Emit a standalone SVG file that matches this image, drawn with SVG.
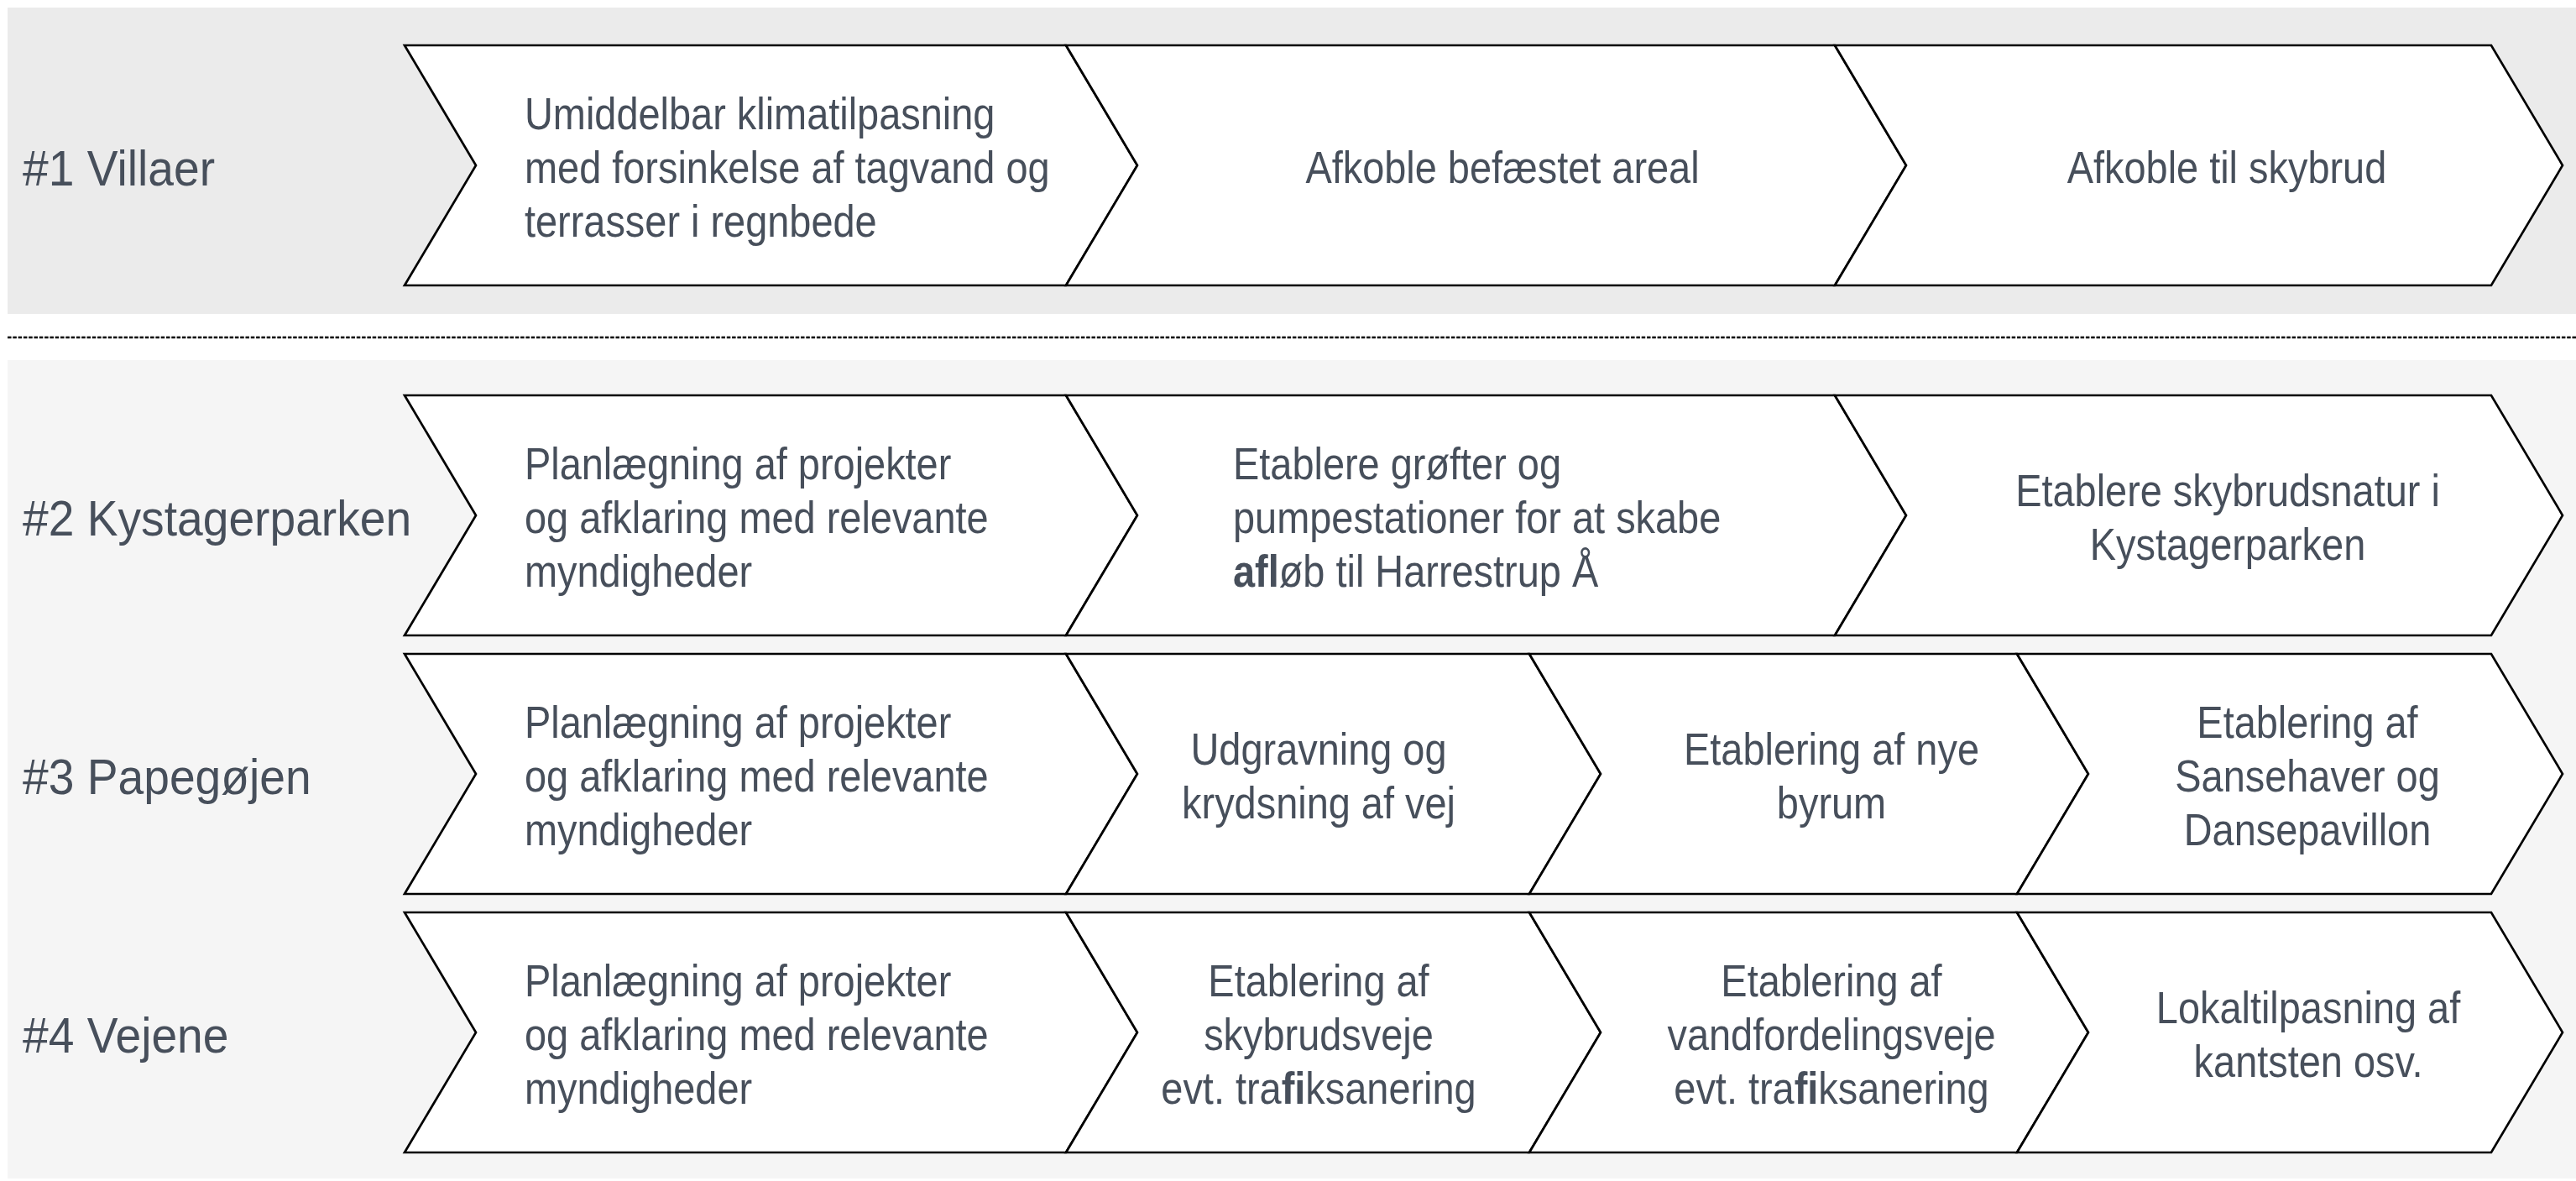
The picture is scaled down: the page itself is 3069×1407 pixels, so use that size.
<svg xmlns="http://www.w3.org/2000/svg" width="3069" height="1407" viewBox="0 0 3069 1407">
<style>
.chev{fill:#ffffff;stroke:#000000;stroke-width:2.7;stroke-linejoin:miter}
.t{font-family:"Liberation Sans",Arial,sans-serif;font-size:53px;fill:#474f5b}
.lbl{font-family:"Liberation Sans",Arial,sans-serif;font-size:60px;fill:#474f5b}
.c{text-anchor:middle}
.b{font-weight:bold}
</style>
<rect x="0" y="0" width="3069" height="1407" fill="#ffffff"/>
<g id="backgrounds">
<rect x="9" y="9" width="3060" height="365" fill="#ebebeb"/>
<rect x="9" y="429" width="3060" height="975" fill="#f5f5f5"/>
<line x1="9" y1="402" x2="3069" y2="402" stroke="#000" stroke-width="2.7" stroke-dasharray="4.5 1.8"/>
</g>

<g id="label-1"><g transform="translate(27 0) scale(0.92 1)"><text class="lbl" x="0" y="221">#1 Villaer</text></g></g>
<g id="label-2"><g transform="translate(27 0) scale(0.92 1)"><text class="lbl" x="0" y="638">#2 Kystagerparken</text></g></g>
<g id="label-3"><g transform="translate(27 0) scale(0.92 1)"><text class="lbl" x="0" y="946">#3 Papegøjen</text></g></g>
<g id="label-4"><g transform="translate(27 0) scale(0.92 1)"><text class="lbl" x="0" y="1254">#4 Vejene</text></g></g>

<!-- Row 1 -->
<g id="r1c1">
<polygon class="chev" points="482,54 1270,54 1355,197 1270,340 482,340 567,197"/>
<g transform="translate(625 0) scale(0.885 1)"><text class="t" x="0"><tspan x="0" y="154">Umiddelbar klimatilpasning</tspan><tspan x="0" y="218">med forsinkelse af tagvand og</tspan><tspan x="0" y="282">terrasser i regnbede</tspan></text></g>
</g>
<g id="r1c2">
<polygon class="chev" points="1270,54 2186,54 2271,197 2186,340 1270,340 1355,197"/>
<g transform="translate(1790 0) scale(0.885 1)"><text class="t c" x="0" y="218">Afkoble befæstet areal</text></g>
</g>
<g id="r1c3">
<polygon class="chev" points="2186,54 2968,54 3053,197 2968,340 2186,340 2271,197"/>
<g transform="translate(2653 0) scale(0.885 1)"><text class="t c" x="0" y="218">Afkoble til skybrud</text></g>
</g>

<!-- Row 2 -->
<g id="r2c1">
<polygon class="chev" points="482,471 1270,471 1355,614 1270,757 482,757 567,614"/>
<g transform="translate(625 0) scale(0.885 1)"><text class="t" x="0"><tspan x="0" y="571">Planlægning af projekter</tspan><tspan x="0" y="635">og afklaring med relevante</tspan><tspan x="0" y="699">myndigheder</tspan></text></g>
</g>
<g id="r2c2">
<polygon class="chev" points="1270,471 2186,471 2271,614 2186,757 1270,757 1355,614"/>
<g transform="translate(1469 0) scale(0.885 1)"><text class="t" x="0"><tspan x="0" y="571">Etablere grøfter og</tspan><tspan x="0" y="635">pumpestationer for at skabe</tspan><tspan x="0" y="699"><tspan class="b">afl</tspan>øb til Harrestrup Å</tspan></text></g>
</g>
<g id="r2c3">
<polygon class="chev" points="2186,471 2968,471 3053,614 2968,757 2186,757 2271,614"/>
<g transform="translate(2654 0) scale(0.885 1)"><text class="t c" x="0"><tspan x="0" y="603">Etablere skybrudsnatur i</tspan><tspan x="0" y="667">Kystagerparken</tspan></text></g>
</g>

<!-- Row 3 -->
<g id="r3c1">
<polygon class="chev" points="482,779 1270,779 1355,922 1270,1065 482,1065 567,922"/>
<g transform="translate(625 0) scale(0.885 1)"><text class="t" x="0"><tspan x="0" y="879">Planlægning af projekter</tspan><tspan x="0" y="943">og afklaring med relevante</tspan><tspan x="0" y="1007">myndigheder</tspan></text></g>
</g>
<g id="r3c2">
<polygon class="chev" points="1270,779 1822,779 1907,922 1822,1065 1270,1065 1355,922"/>
<g transform="translate(1571 0) scale(0.885 1)"><text class="t c" x="0"><tspan x="0" y="911">Udgravning og</tspan><tspan x="0" y="975">krydsning af vej</tspan></text></g>
</g>
<g id="r3c3">
<polygon class="chev" points="1822,779 2403,779 2488,922 2403,1065 1822,1065 1907,922"/>
<g transform="translate(2182 0) scale(0.885 1)"><text class="t c" x="0"><tspan x="0" y="911">Etablering af nye</tspan><tspan x="0" y="975">byrum</tspan></text></g>
</g>
<g id="r3c4">
<polygon class="chev" points="2403,779 2968,779 3053,922 2968,1065 2403,1065 2488,922"/>
<g transform="translate(2749 0) scale(0.885 1)"><text class="t c" x="0"><tspan x="0" y="879">Etablering af</tspan><tspan x="0" y="943">Sansehaver og</tspan><tspan x="0" y="1007">Dansepavillon</tspan></text></g>
</g>

<!-- Row 4 -->
<g id="r4c1">
<polygon class="chev" points="482,1087 1270,1087 1355,1230 1270,1373 482,1373 567,1230"/>
<g transform="translate(625 0) scale(0.885 1)"><text class="t" x="0"><tspan x="0" y="1187">Planlægning af projekter</tspan><tspan x="0" y="1251">og afklaring med relevante</tspan><tspan x="0" y="1315">myndigheder</tspan></text></g>
</g>
<g id="r4c2">
<polygon class="chev" points="1270,1087 1822,1087 1907,1230 1822,1373 1270,1373 1355,1230"/>
<g transform="translate(1571 0) scale(0.885 1)"><text class="t c" x="0"><tspan x="0" y="1187">Etablering af</tspan><tspan x="0" y="1251">skybrudsveje</tspan><tspan x="0" y="1315">evt. tra<tspan class="b">fi</tspan>ksanering</tspan></text></g>
</g>
<g id="r4c3">
<polygon class="chev" points="1822,1087 2403,1087 2488,1230 2403,1373 1822,1373 1907,1230"/>
<g transform="translate(2182 0) scale(0.885 1)"><text class="t c" x="0"><tspan x="0" y="1187">Etablering af</tspan><tspan x="0" y="1251">vandfordelingsveje</tspan><tspan x="0" y="1315">evt. tra<tspan class="b">fi</tspan>ksanering</tspan></text></g>
</g>
<g id="r4c4">
<polygon class="chev" points="2403,1087 2968,1087 3053,1230 2968,1373 2403,1373 2488,1230"/>
<g transform="translate(2750 0) scale(0.885 1)"><text class="t c" x="0"><tspan x="0" y="1219">Lokaltilpasning af</tspan><tspan x="0" y="1283">kantsten osv.</tspan></text></g>
</g>
</svg>
